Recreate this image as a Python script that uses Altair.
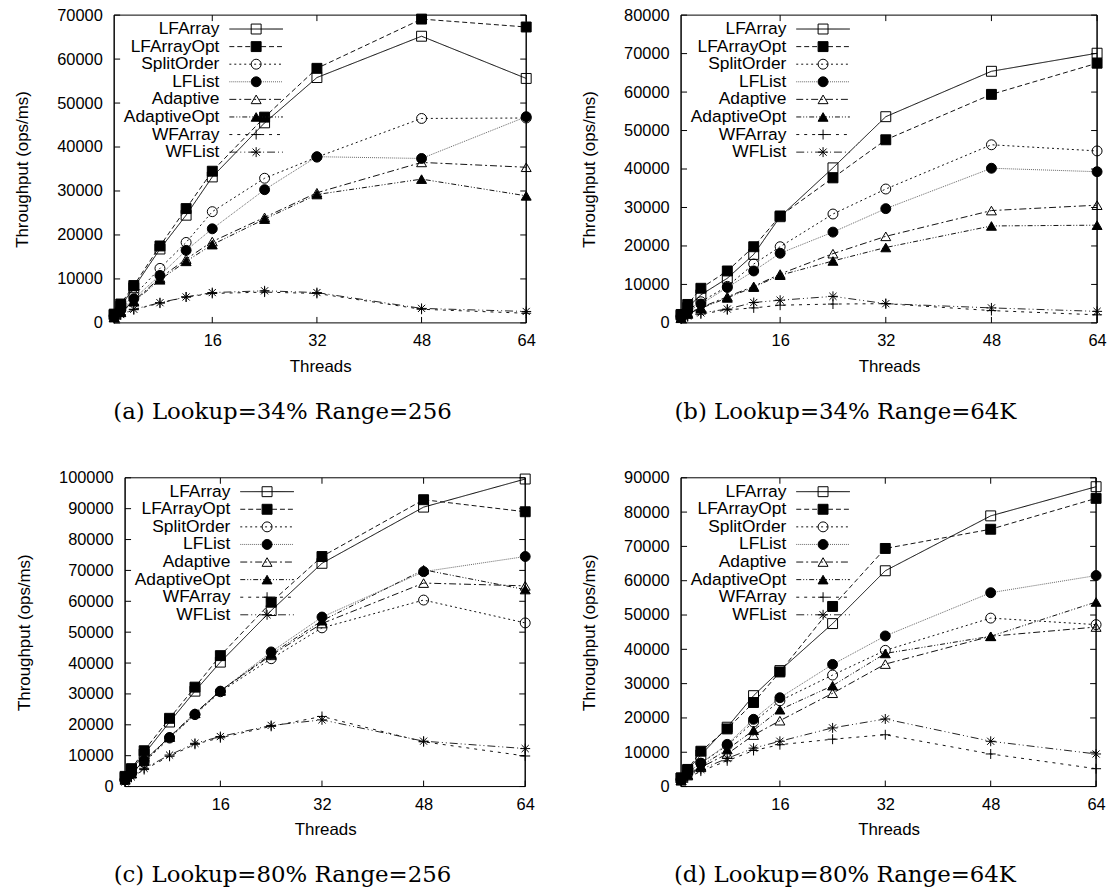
import altair as alt
import pandas as pd

threads = [1, 2, 4, 8, 12, 16, 24, 32, 48, 64]
series = ["LFArray", "LFArrayOpt", "SplitOrder", "LFList",
          "Adaptive", "AdaptiveOpt", "WFArray", "WFList"]
x_ticks = [16, 32, 48, 64]

# (a) Lookup=34% Range=256
panel_a = {
    "LFArray":     [1800, 3800, 8000, 16800, 24500, 33200, 45500, 55800, 65200, 55600],
    "LFArrayOpt":  [2000, 4300, 8500, 17500, 26000, 34500, 46800, 57900, 69100, 67300],
    "SplitOrder":  [1700, 3200, 6200, 12400, 18300, 25300, 32900, 37700, 46500, 46600],
    "LFList":      [1500, 2900, 5500, 10800, 16500, 21400, 30300, 37800, 37400, 46900],
    "Adaptive":    [1300, 2500, 5000, 10200, 14500, 18500, 24000, 29600, 36500, 35400],
    "AdaptiveOpt": [1200, 2400, 4800, 9800, 14000, 17800, 23600, 29200, 32700, 28900],
    "WFArray":     [1000, 1800, 3000, 4500, 5900, 6700, 7000, 6700, 3100, 2200],
    "WFList":      [1000, 1900, 3100, 4600, 5900, 6900, 7300, 6900, 3300, 2600],
}
# (b) Lookup=34% Range=64K
panel_b = {
    "LFArray":     [2000, 4000, 7300, 11600, 17800, 27600, 40300, 53600, 65400, 70100],
    "LFArrayOpt":  [2200, 4800, 9000, 13500, 19800, 27800, 37700, 47600, 59400, 67500],
    "SplitOrder":  [1800, 3300, 5500, 9500, 15300, 19800, 28300, 34800, 46300, 44700],
    "LFList":      [1600, 3000, 4900, 9200, 13500, 18100, 23600, 29700, 40200, 39300],
    "Adaptive":    [1300, 2500, 4000, 6800, 9500, 12700, 18000, 22500, 29200, 30600],
    "AdaptiveOpt": [1200, 2300, 3800, 6500, 9300, 12400, 16100, 19600, 25200, 25400],
    "WFArray":     [1000, 1600, 2300, 3400, 3900, 4600, 4900, 5000, 3200, 2100],
    "WFList":      [1000, 1800, 2600, 3600, 5300, 5900, 6900, 5000, 3900, 3000],
}
# (c) Lookup=80% Range=256
panel_c = {
    "LFArray":     [3000, 5500, 10500, 20900, 30900, 40300, 57000, 72300, 90500, 99600],
    "LFArrayOpt":  [3300, 5800, 11600, 22100, 32200, 42400, 59700, 74500, 92900, 89000],
    "SplitOrder":  [2200, 4200, 7800, 15700, 23300, 30700, 41400, 51400, 60400, 53000],
    "LFList":      [2300, 4300, 8500, 15900, 23400, 30900, 43600, 54900, 69600, 74500],
    "Adaptive":    [2200, 4200, 8300, 16000, 23800, 31000, 42500, 52800, 65900, 65000],
    "AdaptiveOpt": [2200, 4200, 8300, 16100, 23700, 31000, 42900, 53700, 70200, 63800],
    "WFArray":     [1500, 3000, 5500, 9800, 13700, 15800, 19500, 22700, 14500, 9900],
    "WFList":      [1500, 3100, 5900, 10200, 14000, 16200, 19800, 21600, 14700, 12300],
}
# (d) Lookup=80% Range=64K
panel_d = {
    "LFArray":     [2500, 4800, 9200, 17300, 26500, 33800, 47500, 62900, 78900, 87400],
    "LFArrayOpt":  [2500, 5000, 10300, 16800, 24500, 33400, 52500, 69400, 75000, 84000],
    "SplitOrder":  [2000, 3800, 6800, 12000, 18800, 25000, 32500, 39700, 49100, 47200],
    "LFList":      [2100, 4200, 6800, 12300, 19600, 25900, 35600, 43900, 56500, 61500],
    "Adaptive":    [1700, 3200, 5600, 9500, 15000, 19200, 27200, 35700, 43800, 46500],
    "AdaptiveOpt": [1800, 3400, 6000, 10800, 16400, 22400, 29400, 38800, 43800, 53800],
    "WFArray":     [1500, 2500, 4500, 7500, 10500, 12200, 13800, 15100, 9500, 5200],
    "WFList":      [1800, 3000, 5000, 8200, 11200, 13200, 17100, 19700, 13200, 9500],
}

y_max = {"a": 70000, "b": 80000, "c": 100000, "d": 90000}
captions = {
    "a": "(a) Lookup=34% Range=256",
    "b": "(b) Lookup=34% Range=64K",
    "c": "(c) Lookup=80% Range=256",
    "d": "(d) Lookup=80% Range=64K",
}

SANS = "Liberation Sans"
SERIF = "DejaVu Serif"

PLUS = "M-1,0H1M0,-1V1"
STAR = "M-1,0H1M0,-1V1M-0.72,-0.72L0.72,0.72M-0.72,0.72L0.72,-0.72"

dash_scale = alt.Scale(domain=series, range=[[1, 0], [5, 3], [2, 3], [1, 1],
                                             [7, 3, 2, 3], [5, 2, 1, 2, 1, 2],
                                             [3, 5], [8, 3, 1, 3, 1, 3]])
color_scale = alt.Scale(domain=series, range=["#000000", "#111111", "#111111", "#666666",
                                              "#111111", "#111111", "#111111", "#222222"])
shape_scale = alt.Scale(domain=series, range=["square", "square", "circle", "circle",
                                              "triangle-up", "triangle-up", PLUS, STAR])
fill_scale = alt.Scale(domain=series, range=["transparent", "black", "transparent", "black",
                                             "transparent", "black", "transparent", "transparent"])
size_scale = alt.Scale(domain=series, range=[100, 100, 75, 80, 80, 80, 110, 110])


def panel(vals, ymax, W, H, caption, dx, off=0):
    """W, H: group size; the framed plot runs from x=off to x=W."""
    rows = []
    for s in series:
        for t, v in zip(threads, vals[s]):
            rows.append({"series": s, "threads": t, "value": v})
    df = pd.DataFrame(rows)
    yt = list(range(0, ymax + 1, 10000))

    xs = alt.Scale(domain=[1, 64], nice=False, zero=False, range=[off, W])
    ys = alt.Scale(domain=[0, ymax], nice=False)
    X = alt.X("threads:Q", scale=xs,
              axis=alt.Axis(values=x_ticks, title="Threads", labelFlush=False,
                            labelPadding=10, titlePadding=9))
    Y = alt.Y("value:Q", scale=ys,
              axis=alt.Axis(values=yt, format="d", title="Throughput (ops/ms)",
                            labelPadding=12 - off, titlePadding=25))

    sdash = alt.StrokeDash("series:N", scale=dash_scale, legend=None)
    scol = alt.Color("series:N", scale=color_scale, legend=None)
    sshape = alt.Shape("series:N", scale=shape_scale, legend=None)
    sfill = alt.Fill("series:N", scale=fill_scale, legend=None)
    ssize = alt.Size("series:N", scale=size_scale, legend=None)

    lines = alt.Chart(df).mark_line(strokeWidth=1).encode(
        x=X, y=Y, detail="series:N", strokeDash=sdash, color=scol)
    points = alt.Chart(df).mark_point(opacity=1, stroke="black", strokeWidth=1).encode(
        x=X, y=Y, shape=sshape, fill=sfill, size=ssize)

    dfy = pd.DataFrame({"value": yt})
    dfx = pd.DataFrame({"threads": x_ticks})
    tk = dict(color="black", strokeWidth=1)
    yl = alt.Chart(dfy).mark_rule(**tk).encode(y=Y, x=alt.value(off), x2=alt.value(off + 6))
    yr = alt.Chart(dfy).mark_rule(**tk).encode(y=Y, x=alt.value(W - 6), x2=alt.value(W))
    xt = alt.Chart(dfx).mark_rule(**tk).encode(x=X, y=alt.value(0), y2=alt.value(6))
    xb = alt.Chart(dfx).mark_rule(**tk).encode(x=X, y=alt.value(H - 6), y2=alt.value(H))

    # plot frame
    dfr = pd.DataFrame({"value": [0, ymax]})
    fh = alt.Chart(dfr).mark_rule(**tk).encode(y=Y, x=alt.value(off), x2=alt.value(W))
    fl = alt.Chart(dfr).mark_rule(**tk).encode(
        x=alt.value(off), y=alt.value(0), y2=alt.value(H))
    fr = alt.Chart(dfr).mark_rule(**tk).encode(
        x=alt.value(W), y=alt.value(0), y2=alt.value(H))

    data_layer = alt.layer(lines, points, yl, yr, xt, xb, fh, fl, fr)

    dleg = pd.DataFrame({"series": series})
    ly = alt.Y("series:N", sort=series,
               scale=alt.Scale(type="point", domain=series, range=[14, 138], padding=0),
               axis=None)
    ltext = alt.Chart(dleg).mark_text(align="right", baseline="middle", font=SANS,
                                      fontSize=17.5, color="black").encode(
        x=alt.value(off + 106), y=ly, text="series:N")
    lsamp = alt.Chart(dleg).mark_rule(strokeWidth=1).encode(
        x=alt.value(off + 116), x2=alt.value(off + 170), y=ly, strokeDash=sdash, color=scol)
    lpts = alt.Chart(dleg).mark_point(opacity=1, stroke="black", strokeWidth=1).encode(
        x=alt.value(off + 143), y=ly, shape=sshape, fill=sfill, size=ssize)
    leg_layer = alt.layer(ltext, lsamp, lpts)

    return alt.layer(data_layer, leg_layer).resolve_scale(y="independent").properties(
        width=W, height=H,
        title=alt.TitleParams(caption, orient="bottom", font=SERIF, fontSize=23,
                              fontWeight="normal", color="black", frame="group",
                              anchor="middle", dx=dx, offset=27))


pa = panel(panel_a, y_max["a"], 415, 310, captions["a"], -38)
pb = panel(panel_b, y_max["b"], 419, 310, captions["b"], -44)
pc = panel(panel_c, y_max["c"], 414, 311, captions["c"], -37.5, off=11)
pd_ = panel(panel_d, y_max["d"], 418, 311, captions["d"], -44)

chart = alt.concat(
    pa, pb, pc, pd_,
    columns=2,
    spacing={"row": 46, "column": 45},
).properties(
    padding={"left": 14, "top": 4, "right": 2, "bottom": 5},
    background="white",
).configure_view(
    strokeWidth=0
).configure_axis(
    labelFont=SANS, labelFontSize=16.5, labelColor="black",
    titleFont=SANS, titleFontSize=17, titleFontWeight="normal", titleColor="black",
    ticks=False, tickSize=0, domain=False, grid=False,
)

chart.save("out.html", embed_options={"renderer": "svg", "actions": False})
